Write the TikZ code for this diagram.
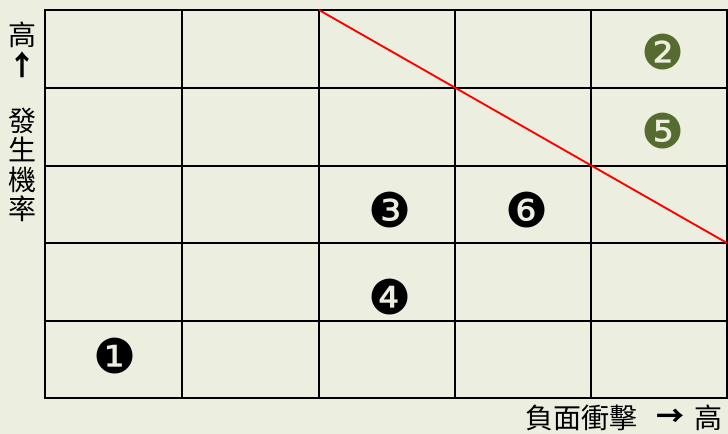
\documentclass[tikz,border=0pt]{standalone}
\usepackage{fontspec}
\newfontfamily\cjkfont{Noto Sans CJK TC}
\newfontfamily\symfont{DejaVu Sans}
\usetikzlibrary{positioning}
\definecolor{PaperBg}{RGB}{236,239,224}
\definecolor{RiskGreen}{RGB}{85,107,47}
\tikzset{
  gridline/.style={line width=2pt,draw=black,line cap=rect},
  limitline/.style={line width=1.4pt,draw=red},
  riskmark/.style={font=\symfont\fontsize{36}{36}\selectfont,inner sep=0pt},
  axislabel/.style={font=\cjkfont\fontsize{21}{22}\selectfont,inner sep=0pt,align=center},
  axisarrow/.style={font=\cjkfont\bfseries\fontsize{21}{22}\selectfont,inner sep=0pt},
}

\begin{document}
\begin{tikzpicture}[x=0.75pt,y=-0.75pt]
  \fill[PaperBg] (0,0) rectangle (728,434);
  \useasboundingbox (0,0) rectangle (728,434);
  % grid
  \foreach \c/\x in {0/45,1/182,2/319,3/455,4/591,5/727}
    \coordinate (col\c) at (\x,10);
  \foreach \r/\y in {0/10,1/88,2/166,3/243,4/321,5/398}
    \coordinate (row\r) at (45,\y);
  \foreach \c in {0,...,5}
    \draw[gridline] (col\c) -- (col\c |- row5);
  \foreach \r in {0,...,5}
    \draw[gridline] (row\r) -- (row\r -| col5);
  \draw[limitline] (col2) -- (col5 |- row3);
  % risks
  \node[riskmark] (r1) at (115,356) {❶};
  \node[riskmark,text=RiskGreen] (r2) at (663,52) {❷};
  \node[riskmark] (r3) at (390,210) {❸};
  \node[riskmark] (r4) at (390,297) {❹};
  \node[riskmark,text=RiskGreen] (r5) at (663,131) {❺};
  \node[riskmark] (r6) at (527,210) {❻};
  % axes
  \node[axislabel] (yhigh) at (22,35) {高};
  \node[axisarrow] (uparrow) at (22,65) {↑};
  \node[axislabel] (likely) at (22,165) {發\\生\\機\\率};
  \node[axislabel,anchor=east] (xhigh) at (723,418) {高};
  \node[axisarrow,left=7pt of xhigh] (rarrow) {→};
  \node[axislabel,left=14pt of rarrow] (impact) {負面衝擊};
\end{tikzpicture}
\end{document}
